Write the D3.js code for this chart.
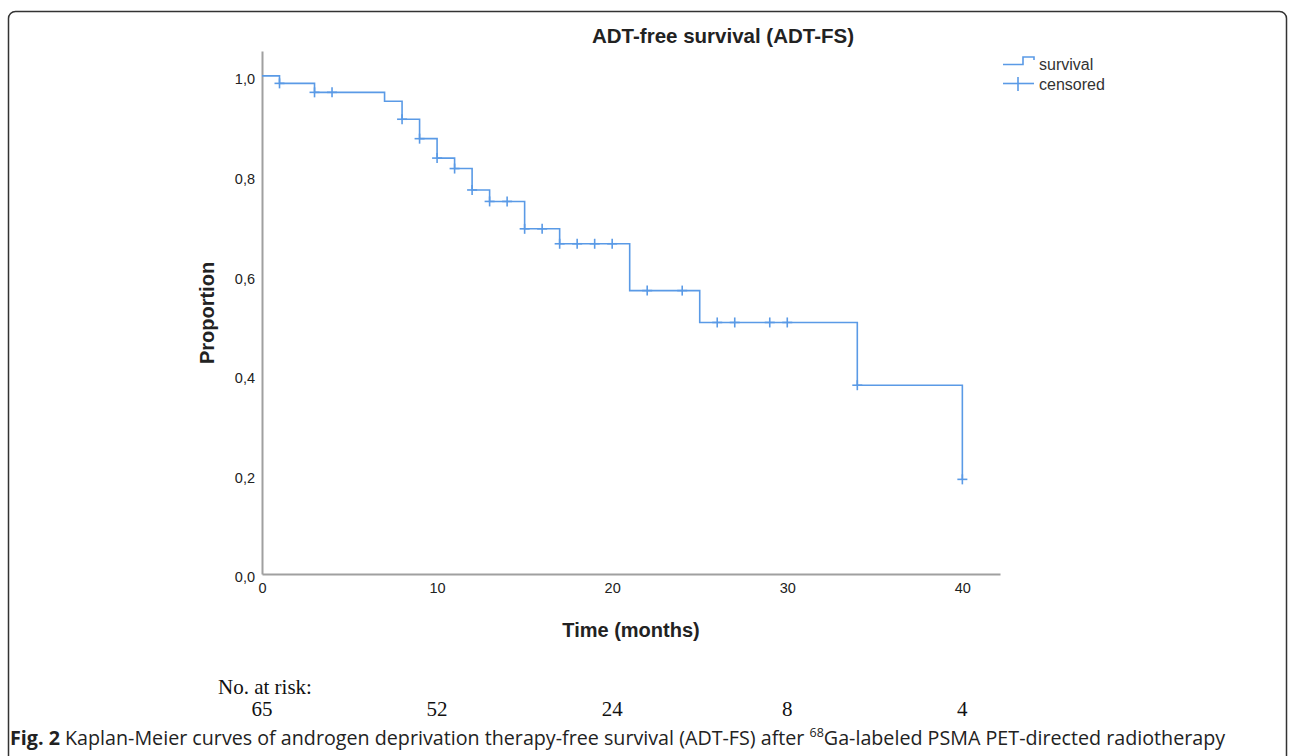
<!DOCTYPE html>
<html>
<head>
<meta charset="utf-8">
<script src="https://cdn.jsdelivr.net/npm/d3@7"></script>
<style>
  html, body { margin: 0; padding: 0; background: #fff; }
  svg { display: block; }
</style>
</head>
<body>
<svg id="chart" width="1292" height="756"></svg>
<script>
// ---- Data ----
const eventTimes = [0, 1, 3, 7, 8, 9, 10, 11, 12, 13, 15, 17, 21, 25, 34, 40];
const survival   = [1.0, 0.985, 0.967, 0.949, 0.913, 0.874, 0.835, 0.814, 0.771, 0.748, 0.693, 0.663, 0.569, 0.505, 0.379, 0.190];
const censoredTimes = [1, 3, 4, 8, 9, 10, 11, 12, 13, 14, 15, 16, 17, 18, 19, 20, 22, 24, 26, 27, 29, 30, 34, 40];
const xTicks = [0, 10, 20, 30, 40];
const yTicks = [0, 0.2, 0.4, 0.6, 0.8, 1.0];
const riskTimes = [0, 10, 20, 30, 40];
const riskCounts = [65, 52, 24, 8, 4];

const title = "ADT-free survival (ADT-FS)";
const xLabel = "Time (months)";
const yLabel = "Proportion";
const legendItems = ["survival", "censored"];

const svg = d3.select("#chart");
const lineColor = "#5a9ae6";
const axisColor = "#a0a0a0";
const textColor = "#222";

// frame
svg.append("rect")
  .attr("x", 8.5).attr("y", 11.5)
  .attr("width", 1278).attr("height", 800)
  .attr("rx", 7).attr("ry", 7)
  .attr("fill", "none").attr("stroke", "#333").attr("stroke-width", 1.5);

const x = d3.scaleLinear().domain([0, 42.15]).range([262, 1000]);
const y = d3.scaleLinear().domain([0, 1.05]).range([574, 51]);

// axes
const xAxis = svg.append("g").attr("transform", "translate(0,574)")
  .call(d3.axisBottom(x).tickValues(xTicks).tickSize(0).tickSizeOuter(0).tickPadding(9).tickFormat(d3.format("d")));
const yAxis = svg.append("g").attr("transform", "translate(262,0)")
  .call(d3.axisLeft(y).tickValues(yTicks).tickSize(0).tickSizeOuter(0).tickPadding(7)
    .tickFormat(d => d3.format(".1f")(d).replace(".", ",")));
[xAxis, yAxis].forEach(g => {
  g.select(".domain").attr("stroke", axisColor).attr("stroke-width", 2);
  g.selectAll("text").attr("fill", textColor)
    .style("font-family", "'Liberation Sans', Arial, sans-serif").style("font-size", "14.5px");
});
yAxis.selectAll("text").attr("dy", "0.55em");

// survival step line
const pts = eventTimes.map((t, i) => [t, survival[i]]);
const line = d3.line().x(d => x(d[0])).y(d => y(d[1])).curve(d3.curveStepAfter);
svg.append("path").datum(pts)
  .attr("d", line).attr("fill", "none")
  .attr("stroke", lineColor).attr("stroke-width", 1.6);

// censored marks
function survAt(t) {
  let s = survival[0];
  eventTimes.forEach((et, i) => { if (et <= t) s = survival[i]; });
  return s;
}
const cg = svg.append("g").attr("stroke", lineColor).attr("stroke-width", 1.6);
censoredTimes.forEach(t => {
  const cx = x(t), cy = y(survAt(t));
  cg.append("line").attr("x1", cx - 5).attr("x2", cx + 5).attr("y1", cy).attr("y2", cy);
  cg.append("line").attr("x1", cx).attr("x2", cx).attr("y1", cy - 5).attr("y2", cy + 5);
});

// titles
const sans = "'Liberation Sans', Arial, sans-serif";
svg.append("text").attr("x", 723).attr("y", 43).attr("text-anchor", "middle")
  .style("font-family", sans).style("font-size", "20.5px").style("font-weight", "bold")
  .attr("fill", textColor).text(title);
svg.append("text").attr("x", 631).attr("y", 637).attr("text-anchor", "middle")
  .style("font-family", sans).style("font-size", "20px").style("font-weight", "bold")
  .attr("fill", textColor).text(xLabel);
svg.append("text").attr("transform", "translate(214,313) rotate(-90)").attr("text-anchor", "middle")
  .style("font-family", sans).style("font-size", "20px").style("font-weight", "bold")
  .attr("fill", textColor).text(yLabel);

// legend
const lg = svg.append("g").attr("stroke", lineColor).attr("stroke-width", 1.6).attr("fill", "none");
lg.append("path").attr("d", "M1003,64.5 H1023 V57 H1034 V60");
lg.append("line").attr("x1", 1003).attr("x2", 1034).attr("y1", 83.5).attr("y2", 83.5);
lg.append("line").attr("x1", 1018).attr("x2", 1018).attr("y1", 77).attr("y2", 91);
legendItems.forEach((name, i) => {
  svg.append("text").attr("x", 1039).attr("y", 69.5 + i * 20)
    .style("font-family", sans).style("font-size", "16px")
    .attr("fill", "#333").text(name);
});

// number at risk
const serif = "'Liberation Serif', 'Times New Roman', serif";
svg.append("text").attr("x", 218).attr("y", 694)
  .style("font-family", serif).style("font-size", "21px").attr("fill", "#111")
  .text("No. at risk:");
svg.append("g").selectAll("text").data(riskTimes).join("text")
  .attr("x", d => x(d)).attr("y", 716).attr("text-anchor", "middle")
  .style("font-family", serif).style("font-size", "21px").attr("fill", "#111")
  .text((d, i) => riskCounts[i]);

// caption
const cap = svg.append("text").attr("x", 10).attr("y", 745)
  .style("font-family", "'Open Sans', sans-serif").style("font-size", "19.7px").attr("fill", "#222");
cap.append("tspan").style("font-weight", "bold").text("Fig. 2");
cap.append("tspan").text(" Kaplan-Meier curves of androgen deprivation therapy-free survival (ADT-FS) after ");
cap.append("tspan").style("font-size", "12.5px").attr("dy", -8).text("68");
cap.append("tspan").attr("dy", 8).text("Ga-labeled PSMA PET-directed radiotherapy");
</script>
</body>
</html>
